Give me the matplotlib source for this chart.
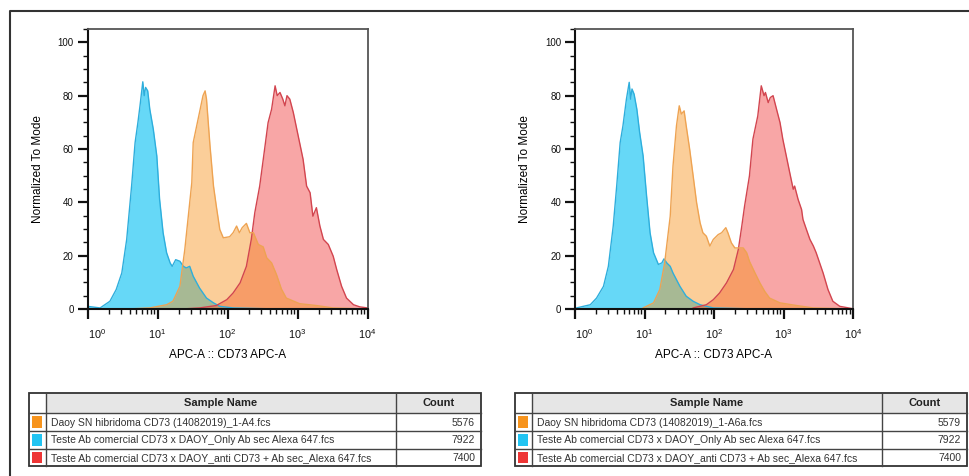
import matplotlib
matplotlib.use("Agg")
import matplotlib.pyplot as plt
import numpy as np
from matplotlib.patches import Rectangle
from matplotlib.ticker import FixedLocator, MultipleLocator, LogLocator, NullFormatter

plt.rcParams['font.family'] = ['Liberation Sans', 'DejaVu Sans']
plt.rcParams['mathtext.fontset'] = 'custom'
plt.rcParams['mathtext.rm'] = 'Liberation Sans'
plt.rcParams['mathtext.it'] = 'Liberation Sans:italic'

# histograms: x as log10(APC-A), y as % of mode
# left panel
l_blue_x = [0.00, 0.18, 0.32, 0.41, 0.49, 0.56, 0.63, 0.68, 0.72, 0.75, 0.79, 0.81, 0.83, 0.86,
            0.89, 0.94, 0.99, 1.03, 1.08, 1.13, 1.18, 1.21, 1.26, 1.32, 1.37, 1.41, 1.46, 1.51,
            1.60, 1.70, 1.80, 1.89, 2.08, 2.56, 4.00]
l_blue_y = [1.0, 0.4, 2.9, 7.3, 13.5, 26.1, 46.1, 62.4, 69.9, 76.2, 85.2, 80.0, 83.1, 81.8,
            74.9, 67.4, 57.4, 41.1, 28.6, 21.1, 17.3, 16.0, 18.5, 17.9, 16.0, 15.4, 16.0, 12.3,
            7.9, 4.1, 2.3, 1.0, 0.4, 0.1, 0.0]
l_orange_x = [0.65, 0.89, 1.13, 1.22, 1.32, 1.39, 1.44, 1.49, 1.51, 1.56, 1.60, 1.65, 1.68, 1.70,
              1.75, 1.80, 1.84, 1.89, 1.94, 2.03, 2.08, 2.13, 2.17, 2.21, 2.27, 2.32, 2.37, 2.44,
              2.51, 2.56, 2.63, 2.70, 2.77, 2.84, 3.03, 3.27, 3.51, 4.00]
l_orange_y = [0.1, 0.4, 1.6, 2.9, 8.5, 22.3, 34.8, 47.4, 62.4, 68.7, 73.7, 80.0, 81.8, 78.7,
              61.2, 46.1, 38.6, 29.8, 26.7, 27.1, 28.6, 31.1, 28.6, 30.5, 32.1, 28.6, 28.6, 24.2,
              23.3, 19.2, 17.3, 12.9, 7.5, 4.1, 2.0, 1.3, 0.4, 0.0]
l_red_x = [1.41, 1.60, 1.84, 1.99, 2.08, 2.18, 2.27, 2.34, 2.39, 2.46, 2.53, 2.58, 2.63, 2.68,
           2.71, 2.75, 2.79, 2.82, 2.85, 2.89, 2.94, 2.99, 3.03, 3.08, 3.13, 3.18, 3.22, 3.27,
           3.32, 3.37, 3.44, 3.51, 3.56, 3.63, 3.70, 3.80, 3.89, 4.00]
l_red_y = [0.1, 0.4, 1.3, 3.5, 6.0, 9.8, 16.0, 26.1, 36.1, 46.1, 59.9, 69.9, 74.9, 83.7,
           80.0, 81.2, 78.7, 76.2, 80.0, 78.7, 73.7, 67.4, 62.4, 56.1, 46.1, 43.6, 34.8, 38.0,
           31.1, 26.1, 24.2, 19.8, 14.8, 8.5, 4.1, 1.6, 0.8, 0.4]

# right panel
r_blue_x = [0.02, 0.22, 0.31, 0.41, 0.48, 0.55, 0.60, 0.65, 0.69, 0.74, 0.78, 0.80, 0.82, 0.85,
            0.89, 0.93, 0.98, 1.03, 1.08, 1.13, 1.20, 1.25, 1.28, 1.32, 1.37, 1.41, 1.46, 1.51,
            1.60, 1.70, 1.80, 1.99, 2.47, 4.00]
r_blue_y = [0.4, 1.6, 4.1, 8.5, 16.0, 31.1, 46.1, 62.4, 68.7, 78.7, 85.0, 78.7, 82.5, 80.6,
            74.9, 66.2, 57.4, 42.4, 28.6, 21.1, 16.7, 17.3, 18.8, 17.3, 16.0, 13.5, 11.0, 8.5,
            4.8, 2.9, 1.6, 0.4, 0.1, 0.0]
r_orange_x = [0.98, 1.13, 1.22, 1.29, 1.37, 1.41, 1.46, 1.50, 1.53, 1.57, 1.60, 1.65, 1.70, 1.75,
              1.80, 1.84, 1.89, 1.94, 1.99, 2.06, 2.11, 2.17, 2.20, 2.25, 2.30, 2.35, 2.42, 2.47,
              2.51, 2.59, 2.66, 2.73, 2.80, 2.95, 3.19, 3.43, 4.00]
r_orange_y = [0.4, 2.3, 7.3, 17.3, 34.8, 53.6, 68.7, 76.2, 73.1, 74.3, 68.7, 59.9, 49.9, 39.8,
              32.3, 28.6, 27.3, 23.6, 26.1, 27.9, 28.6, 30.5, 28.6, 24.8, 22.9, 22.9, 22.9, 21.1,
              17.9, 13.5, 9.8, 6.6, 4.1, 2.3, 1.3, 0.4, 0.0]
r_red_x = [1.70, 1.89, 1.99, 2.08, 2.18, 2.28, 2.35, 2.40, 2.44, 2.51, 2.56, 2.61, 2.63, 2.68,
           2.72, 2.74, 2.78, 2.81, 2.85, 2.90, 2.95, 2.99, 3.04, 3.09, 3.14, 3.16, 3.21, 3.26,
           3.28, 3.33, 3.38, 3.43, 3.47, 3.52, 3.57, 3.64, 3.71, 3.81, 4.00]
r_red_y = [0.4, 1.6, 3.5, 6.0, 9.8, 14.8, 22.3, 31.1, 38.6, 49.9, 63.7, 69.9, 72.4, 83.7,
           80.0, 81.2, 77.4, 79.3, 80.0, 74.9, 69.9, 63.7, 57.4, 51.1, 44.9, 46.1, 41.1, 37.3,
           33.6, 29.8, 26.1, 23.6, 21.1, 17.3, 13.5, 7.3, 2.9, 1.0, 0.1]

y_ticks = [0, 20, 40, 60, 80, 100]
x_decades = [0, 1, 2, 3, 4]

l_names = ["Daoy SN hibridoma CD73 (14082019)_1-A4.fcs",
           "Teste Ab comercial CD73 x DAOY_Only Ab sec Alexa 647.fcs",
           "Teste Ab comercial CD73 x DAOY_anti CD73 + Ab sec_Alexa 647.fcs"]
l_counts = ["5576", "7922", "7400"]
r_names = ["Daoy SN hibridoma CD73 (14082019)_1-A6a.fcs",
           "Teste Ab comercial CD73 x DAOY_Only Ab sec Alexa 647.fcs",
           "Teste Ab comercial CD73 x DAOY_anti CD73 + Ab sec_Alexa 647.fcs"]
r_counts = ["5579", "7922", "7400"]

swatch = ["#f7941d", "#22c4f2", "#ee3535"]   # orange, blue, red


def draw_hist(ax, blue, orange, red):
    # blue first, then red, orange last so overlaps blend like the flowjo export
    for (lx, y), fc, ec, a in [(blue, "#00bff3", "#2eaedc", 0.6),
                               (red, "#f03a3a", "#d2454f", 0.45),
                               (orange, "#f7941d", "#eea352", 0.45)]:
        x = 10 ** np.array(lx)
        ax.fill_between(x, y, 0, color=fc, alpha=a, lw=0)
        ax.plot(x, y, color=ec, lw=1.0)

    ax.set_xscale("log")
    ax.set_xlim(1, 1e4)
    ax.set_ylim(0, 105)
    ax.xaxis.set_major_locator(FixedLocator([10.0 ** d for d in x_decades]))
    ax.set_xticklabels(["$10^{%d}$" % d for d in x_decades])
    ax.xaxis.set_minor_locator(LogLocator(base=10, subs=np.arange(2, 10)))
    ax.xaxis.set_minor_formatter(NullFormatter())
    ax.set_yticks(y_ticks)
    ax.yaxis.set_minor_locator(MultipleLocator(5))
    ax.get_xticklabels()[0].set_horizontalalignment("left")

    ax.tick_params(which="major", direction="out", length=7, width=1.6, labelsize=7,
                   colors="#111111", pad=3)
    ax.tick_params(which="minor", direction="out", length=3.5, width=1.0, colors="#111111")
    ax.tick_params(axis="x", which="major", pad=6, labelsize=7.8)
    for s in ["top", "right"]:
        ax.spines[s].set_color("#555555")
        ax.spines[s].set_linewidth(1.3)
    for s in ["left", "bottom"]:
        ax.spines[s].set_color("#111111")
        ax.spines[s].set_linewidth(1.5)
    ax.set_xlabel("APC-A :: CD73 APC-A", fontsize=8.5, labelpad=6)
    ax.set_ylabel("Normalized To Mode", fontsize=8.5, labelpad=10)


fig = plt.figure(figsize=(9.69, 4.76), dpi=100)

ax1 = fig.add_axes([87.5 / 969, 1 - 309 / 476, 280 / 969, 280 / 476])
draw_hist(ax1, (l_blue_x, l_blue_y), (l_orange_x, l_orange_y), (l_red_x, l_red_y))

ax2 = fig.add_axes([575 / 969, 1 - 309 / 476, 278 / 969, 280 / 476])
draw_hist(ax2, (r_blue_x, r_blue_y), (r_orange_x, r_orange_y), (r_red_x, r_red_y))

# overlay in pixel units for the frame and the sample tables
canvas = fig.add_axes([0, 0, 1, 1])
canvas.set_xlim(0, 969)
canvas.set_ylim(476, 0)
canvas.axis("off")
canvas.plot([10, 10, 969], [476, 11, 11], color="#333333", lw=1.5, solid_capstyle="butt")


def draw_table(x0, x1, names, counts):
    rows = [393, 413, 431, 448.5, 466]
    c1 = x0 + 17
    c2 = x1 - 85
    canvas.add_patch(Rectangle((c1, rows[0]), x1 - c1, rows[1] - rows[0],
                               fc="#e6e6e6", ec="none"))
    canvas.text((c1 + c2) / 2, (rows[0] + rows[1]) / 2, "Sample Name", ha="center",
                va="center", fontsize=8, fontweight="bold", color="#222222")
    canvas.text((c2 + x1) / 2, (rows[0] + rows[1]) / 2, "Count", ha="center",
                va="center", fontsize=8, fontweight="bold", color="#222222")
    for i in range(3):
        top, bot = rows[i + 1], rows[i + 2]
        canvas.add_patch(Rectangle((x0 + 3.5, top + 3), c1 - x0 - 7, bot - top - 6,
                                   fc=swatch[i], ec="none"))
        canvas.text(c1 + 5, (top + bot) / 2 + 0.5, names[i], ha="left", va="center",
                    fontsize=7.5, color="#333333")
        canvas.text(x1 - 6, (top + bot) / 2 + 0.5, counts[i], ha="right", va="center",
                    fontsize=7.5, color="#333333")
    for y in rows[1:-1]:
        canvas.plot([x0, x1], [y, y], color="#444444", lw=1.0)
    for x in [c1, c2]:
        canvas.plot([x, x], [rows[0], rows[-1]], color="#444444", lw=1.0)
    canvas.add_patch(Rectangle((x0, rows[0]), x1 - x0, rows[-1] - rows[0],
                               fc="none", ec="#333333", lw=1.3))


draw_table(29, 481, l_names, l_counts)
draw_table(515, 967, r_names, r_counts)

fig.savefig("out.png", dpi=100)
